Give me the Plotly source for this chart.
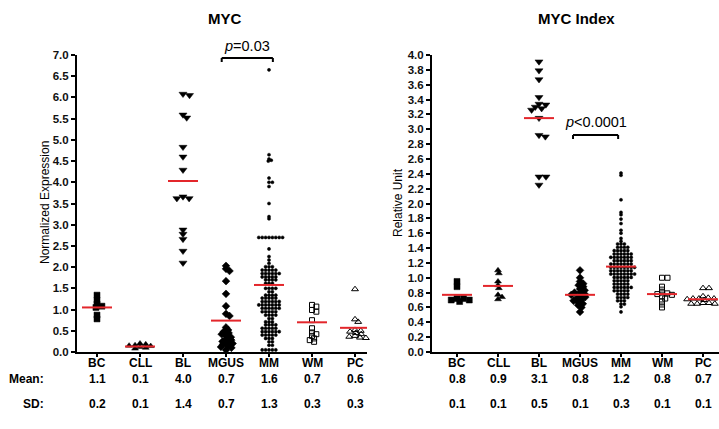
import math
import plotly.graph_objects as go

# ---------------- data ----------------
categories = ["BC", "CLL", "BL", "MGUS", "MM", "WM", "PC"]

# MYC (Normalized Expression)
myc_BC = [1.34, 1.22, 1.13, 1.08, 1.05, 0.87, 0.78]
myc_CLL = [0.20, 0.18, 0.16, 0.15, 0.14, 0.12, 0.10, 0.08]
myc_BL = [6.08, 6.05, 5.59, 5.52, 4.83, 4.60, 4.29, 3.66, 3.62, 3.62, 2.88, 2.78, 2.66, 2.38, 2.10]
myc_MGUS = [2.03, 1.96, 1.91, 1.67, 1.37, 1.08, 0.90, 0.85, 0.58, 0.52, 0.48, 0.45, 0.42,
            0.38, 0.35, 0.30, 0.28, 0.25, 0.22, 0.20, 0.18, 0.15, 0.12, 0.10, 0.05]
myc_MM = [6.65, 4.65, 4.55, 4.52, 4.50, 4.10, 4.00, 4.00, 3.90, 3.50, 3.19, 3.14,
          2.70, 2.70, 2.70, 2.70, 2.70, 2.70, 2.70, 2.70, 2.43, 2.25, 2.17,
          2.09, 2.01, 2.01, 2.01, 1.93, 1.93, 1.93, 1.93, 1.93,
          1.85, 1.85, 1.85, 1.85, 1.85, 1.85, 1.77, 1.77, 1.77, 1.77, 1.77,
          1.70, 1.70, 1.70, 1.70, 1.62, 1.62, 1.62, 1.50, 1.50, 1.50, 1.50,
          1.42, 1.42, 1.34, 1.34, 1.34, 1.34, 1.27, 1.27, 1.27, 1.27, 1.27,
          1.19, 1.19, 1.19, 1.19, 1.19, 1.19, 1.11, 1.11, 1.11, 1.11, 1.11, 1.11, 1.11,
          1.03, 1.03, 1.03, 1.03, 1.03, 1.03, 0.95, 0.95, 0.95, 0.95, 0.95,
          0.87, 0.87, 0.87, 0.87, 0.79, 0.79, 0.71, 0.71, 0.71, 0.64, 0.64, 0.64, 0.64,
          0.56, 0.56, 0.56, 0.56, 0.56, 0.48, 0.48, 0.48, 0.48, 0.48, 0.48,
          0.40, 0.40, 0.40, 0.40, 0.40, 0.32, 0.32, 0.32, 0.24, 0.24, 0.16, 0.16,
          0.05, 0.05, 0.05, 0.05, 0.05]
myc_WM = [1.11, 1.07, 0.99, 0.95, 0.75, 0.56, 0.46, 0.42, 0.38, 0.32, 0.28, 0.24]
myc_PC = [1.48, 0.77, 0.71, 0.52, 0.50, 0.48, 0.45, 0.42, 0.38, 0.36, 0.34, 0.33]
myc_mean_lines = [1.05, 0.13, 4.03, 0.74, 1.58, 0.70, 0.57]
myc_mean_text = ["1.1", "0.1", "4.0", "0.7", "1.6", "0.7", "0.6"]
myc_sd_text = ["0.2", "0.1", "1.4", "0.7", "1.3", "0.3", "0.3"]
myc_yticks = [0.0, 0.5, 1.0, 1.5, 2.0, 2.5, 3.0, 3.5, 4.0, 4.5, 5.0, 5.5, 6.0, 6.5, 7.0]

# MYC Index (Relative Unit)
idx_BC = [0.95, 0.88, 0.72, 0.70, 0.68, 0.70, 0.72]
idx_CLL = [1.10, 1.06, 0.95, 0.90, 0.86, 0.77, 0.74, 0.71]
idx_BL = [3.91, 3.79, 3.67, 3.43, 3.34, 3.33, 3.30, 3.28, 3.26, 3.15, 2.92, 2.90, 2.36, 2.36, 2.25]
idx_MGUS = [1.10, 1.00, 0.95, 0.92, 0.90, 0.88, 0.85, 0.83, 0.80, 0.80, 0.78, 0.77, 0.75,
            0.74, 0.72, 0.70, 0.69, 0.67, 0.65, 0.63, 0.60, 0.54]
idx_MM = [2.41, 2.38, 2.05, 1.88, 1.85, 1.79, 1.73, 1.64, 1.60, 1.53, 1.49,
          1.455, 1.455, 1.455, 1.41, 1.41, 1.41, 1.41, 1.365, 1.365, 1.365, 1.365, 1.365,
          1.32, 1.32, 1.32, 1.32, 1.32, 1.32, 1.275, 1.275, 1.275, 1.275, 1.275, 1.275, 1.275,
          1.23, 1.23, 1.23, 1.23, 1.23, 1.23, 1.185, 1.185, 1.185, 1.185, 1.185, 1.185, 1.185,
          1.14, 1.14, 1.14, 1.14, 1.14, 1.14, 1.14, 1.14, 1.095, 1.095, 1.095, 1.095, 1.095, 1.095, 1.095,
          1.05, 1.05, 1.05, 1.05, 1.05, 1.05, 1.05, 1.05, 1.005, 1.005, 1.005, 1.005, 1.005, 1.005,
          0.96, 0.96, 0.96, 0.96, 0.96, 0.915, 0.915, 0.915, 0.915, 0.915,
          0.87, 0.87, 0.87, 0.87, 0.87, 0.87, 0.825, 0.825, 0.825, 0.825, 0.825,
          0.78, 0.78, 0.78, 0.78, 0.735, 0.735, 0.735, 0.735, 0.69, 0.69, 0.69, 0.645, 0.645,
          0.61, 0.54]
idx_WM = [1.00, 1.00, 0.88, 0.84, 0.80, 0.79, 0.78, 0.77, 0.75, 0.72, 0.68, 0.64, 0.60]
idx_PC = [0.86, 0.86, 0.75, 0.73, 0.72, 0.72, 0.72, 0.71, 0.70, 0.66, 0.66, 0.65, 0.65, 0.65, 0.64]
idx_mean_lines = [0.77, 0.89, 3.15, 0.77, 1.15, 0.78, 0.71]
idx_mean_text = ["0.8", "0.9", "3.1", "0.8", "1.2", "0.8", "0.7"]
idx_sd_text = ["0.1", "0.1", "0.5", "0.1", "0.3", "0.1", "0.1"]
idx_yticks = [0.0, 0.2, 0.4, 0.6, 0.8, 1.0, 1.2, 1.4, 1.6, 1.8, 2.0, 2.2, 2.4, 2.6, 2.8,
              3.0, 3.2, 3.4, 3.6, 3.8, 4.0]

# ---------------- layout geometry ----------------
W, H = 719, 429
FONT = "Arial, Liberation Sans, Helvetica, sans-serif"
plot_top, plot_bot = 55, 352
ydom = [1 - plot_bot / H, 1 - plot_top / H]

L = dict(ax0=77, ax1=367, c0=97, step=43.0, ymax=7.0)
R = dict(ax0=432, ax1=719, c0=457, step=41.0, ymax=4.0)
for P in (L, R):
    P["xrange"] = [(P["ax0"] - P["c0"]) / P["step"], (P["ax1"] - P["c0"]) / P["step"]]
    P["ypx"] = (plot_bot - plot_top) / P["ymax"]

VSTRETCH = 2.0  # rows treated as independent when closer than a marker (GraphPad style)


def swarm(vals, ypx, d):
    """beeswarm horizontal offsets (pixels) for a column of values"""
    order = sorted(range(len(vals)), key=lambda i: -vals[i])
    placed = []
    off = [0.0] * len(vals)
    for i in order:
        y = vals[i] * ypx * VSTRETCH
        cands = [0.0]
        for (px, py) in placed:
            dy = y - py
            if abs(dy) < d:
                dx = math.sqrt(d * d - dy * dy)
                cands += [px + dx, px - dx]
        cands.sort(key=lambda c: (abs(c), -c))
        for c in cands:
            if all((c - px) ** 2 + (y - py) ** 2 >= d * d - 1e-6 for (px, py) in placed):
                off[i] = c
                placed.append((c, y))
                break
    return off


styles = [
    dict(symbol="square", size=6, d=6.5),
    dict(symbol="triangle-up", size=6, d=6.0),
    dict(symbol="triangle-down", size=7, d=7.0),
    dict(symbol="diamond", size=6, d=5.5),
    dict(symbol="circle", size=3.1, d=3.4),
    dict(symbol="square-open", size=5, d=5.5),
    dict(symbol="triangle-up-open", size=6, d=6.0),
]

fig = go.Figure()


def add_panel(groups, P, xa, ya, means):
    for gi, vals in enumerate(groups):
        st = styles[gi]
        offs = swarm(vals, P["ypx"], st["d"])
        xs = [gi + o / P["step"] for o in offs]
        fig.add_trace(go.Scatter(
            x=xs, y=vals, mode="markers", xaxis=xa, yaxis=ya, cliponaxis=False,
            marker=dict(symbol=st["symbol"], size=st["size"], color="black",
                        line=dict(color="black", width=1 if "open" in st["symbol"] else 0.5)),
            showlegend=False, hoverinfo="y"))
    hw = 15 / P["step"]
    mx, my = [], []
    for gi, m in enumerate(means):
        mx += [gi - hw, gi + hw, None]
        my += [m, m, None]
    fig.add_trace(go.Scatter(x=mx, y=my, mode="lines", xaxis=xa, yaxis=ya,
                             cliponaxis=False, line=dict(color="#e3262b", width=2),
                             showlegend=False, hoverinfo="skip"))


add_panel([myc_BC, myc_CLL, myc_BL, myc_MGUS, myc_MM, myc_WM, myc_PC], L, "x", "y", myc_mean_lines)
add_panel([idx_BC, idx_CLL, idx_BL, idx_MGUS, idx_MM, idx_WM, idx_PC], R, "x2", "y2", idx_mean_lines)


def xaxis_cfg(P, ya):
    return dict(domain=[P["ax0"] / W, P["ax1"] / W], range=P["xrange"], showgrid=False,
                zeroline=False, showline=True, linecolor="black", linewidth=2,
                anchor=ya, automargin=False, showticklabels=False,
                tickvals=list(range(len(categories))),
                ticks="outside", ticklen=3, tickwidth=1.5, tickcolor="black")


def yaxis_cfg(P, ticks, xa):
    return dict(domain=ydom, range=[0, P["ymax"]], showgrid=False, zeroline=False,
                showline=True, linecolor="black", linewidth=2, anchor=xa, automargin=False,
                tickvals=ticks, ticktext=["<b>%.1f</b>" % t for t in ticks],
                tickfont=dict(family=FONT, size=11.5, color="#111"),
                ticks="outside", ticklen=4, tickwidth=1.5, tickcolor="black")


def A(x, y, text, size=12, xref="paper", xanchor="center", angle=0):
    return dict(x=x, y=1 - y / H, xref=xref, yref="paper", text=text, textangle=angle,
                xanchor=xanchor, yanchor="middle", showarrow=False,
                font=dict(family=FONT, size=size, color="black"))


ann = []
ann.append(A(225 / W, 18, "<b>MYC</b>", 15))
ann.append(A(576 / W, 18, "<b>MYC Index</b>", 15))
ann.append(A(45 / W, 203, "Normalized Expression", 12, angle=-90))
ann.append(A(398 / W, 203, "Relative Unit", 12, angle=-90))
ann.append(A(46 / W, 379, "<b>Mean:</b>", 12, xanchor="right"))
ann.append(A(46 / W, 404, "<b>SD:</b>", 12, xanchor="right"))
for xa, mt, st in (("x", myc_mean_text, myc_sd_text), ("x2", idx_mean_text, idx_sd_text)):
    for gi in range(len(categories)):
        ann.append(A(gi, 363, "<b>%s</b>" % categories[gi], 12, xref=xa))
        ann.append(A(gi, 379, "<b>%s</b>" % mt[gi], 12, xref=xa))
        ann.append(A(gi, 404, "<b>%s</b>" % st[gi], 12, xref=xa))
ann.append(A(3.48, 46, "<i>p</i>=0.03", 14.5, xref="x"))
ann.append(A(3.40, 122, "<i>p</i>&lt;0.0001", 14.5, xref="x2"))

shapes = []
for xa, x0, x1, ytop, ybot in (("x", 2.9, 4.09, 58, 62), ("x2", 2.83, 3.93, 135, 139)):
    shapes.append(dict(type="line", xref=xa, yref="paper", x0=x0, x1=x1,
                       y0=1 - ytop / H, y1=1 - ytop / H, line=dict(color="black", width=2)))
    for xx in (x0, x1):
        shapes.append(dict(type="line", xref=xa, yref="paper", x0=xx, x1=xx,
                           y0=1 - ytop / H, y1=1 - ybot / H, line=dict(color="black", width=2)))

fig.update_layout(
    width=W, height=H, margin=dict(l=0, r=0, t=0, b=0, pad=0, autoexpand=False),
    paper_bgcolor="white", plot_bgcolor="white",
    xaxis=xaxis_cfg(L, "y"), yaxis=yaxis_cfg(L, myc_yticks, "x"),
    xaxis2=xaxis_cfg(R, "y2"), yaxis2=yaxis_cfg(R, idx_yticks, "x2"),
    annotations=ann, shapes=shapes, showlegend=False,
)
fig.write_html("out.html", config={"displayModeBar": False},
               post_script="document.body.style.margin='0';document.body.style.padding='0';")
